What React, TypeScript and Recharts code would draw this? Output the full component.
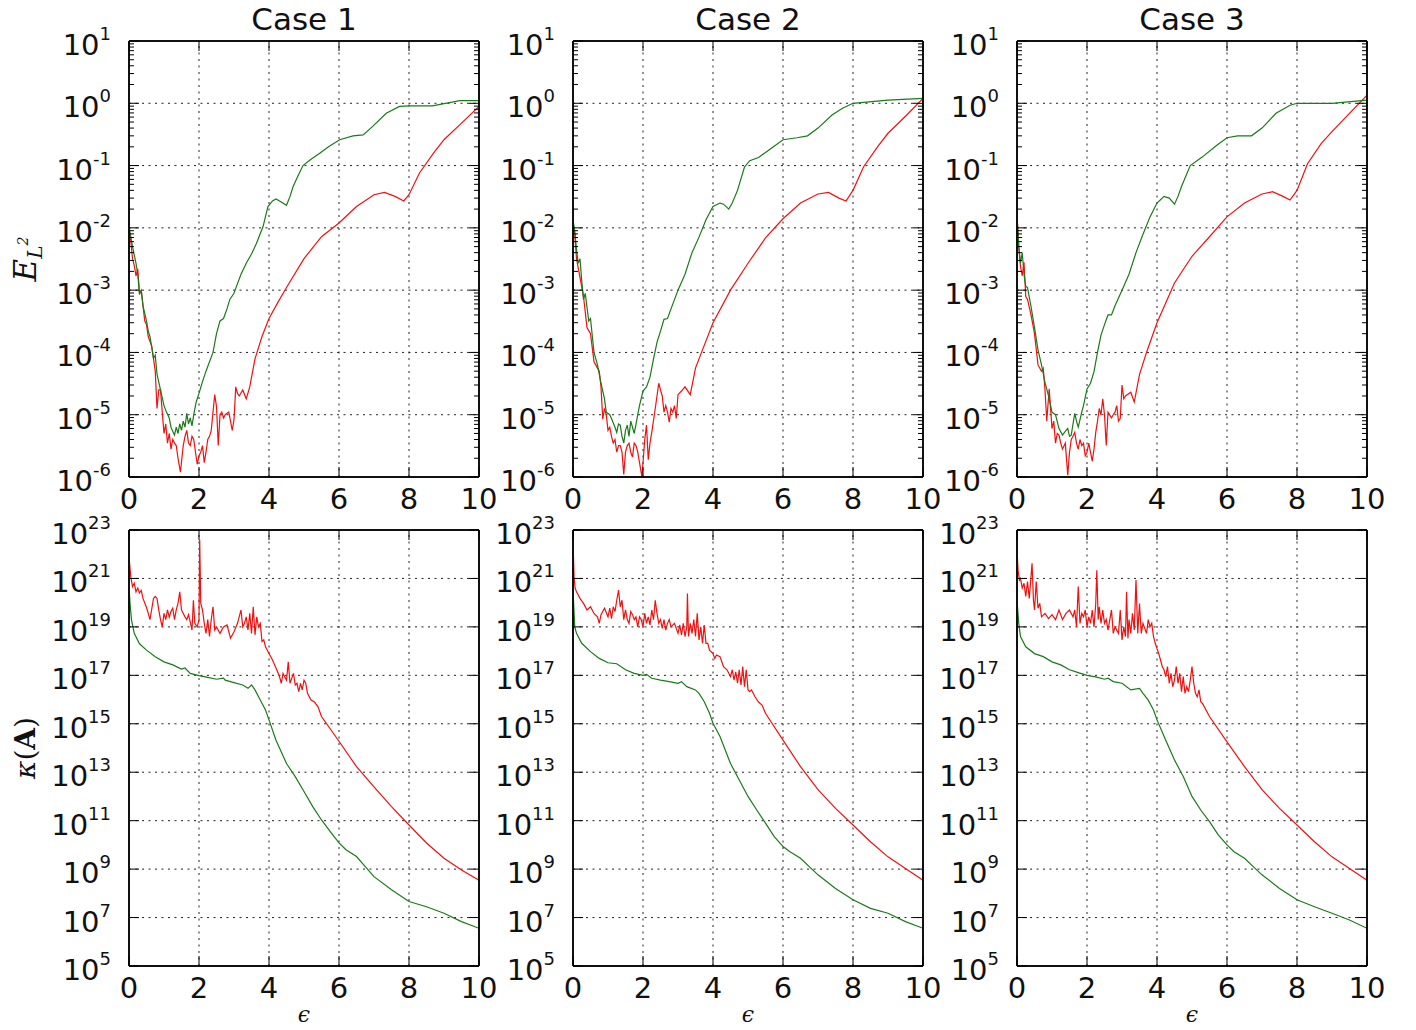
import React from "react";
import { LineChart, Line, XAxis, YAxis, ReferenceLine } from "recharts";

type Pair = [number, number];

// ---------- axis / tick definitions ----------
const xTicks = [0, 2, 4, 6, 8, 10];
const xGrid = [2, 4, 6, 8];
const errMajor = [1e-6, 1e-5, 1e-4, 1e-3, 1e-2, 1e-1, 1, 10];
const errGrid = [1e-5, 1e-4, 1e-3, 1e-2, 1e-1, 1];
const errMinorDecades = [1e-6, 1e-5, 1e-4, 1e-3, 1e-2, 1e-1, 1];
const minorMantissas = [2, 3, 4, 5, 6, 7, 8, 9];
const kapMajor = [1e5, 1e7, 1e9, 1e11, 1e13, 1e15, 1e17, 1e19, 1e21, 1e23];
const kapGrid = [1e7, 1e9, 1e11, 1e13, 1e15, 1e17, 1e19, 1e21];
const titles = ["Case 1", "Case 2", "Case 3"];

// ---------- E_{L^2} (top row) ----------
const errGreen1: Pair[] = [[0,1.05e-2],[0.1,5e-3],[0.2,2.7e-3],[0.25,1.8e-3],[0.3,8.5e-4],[0.35,1e-3],[0.4,5.6e-4],[0.5,3.2e-4],[0.55,2.2e-4],[0.6,1.8e-4],[0.7,8e-5],[0.75,9e-5],[0.8,4.5e-5],[0.9,2.5e-5],[1,1.4e-5],[1.07,1.1e-5],[1.15,8.9e-6],[1.2,6.3e-6],[1.3,4.7e-6],[1.35,6.3e-6],[1.4,5e-6],[1.45,7.1e-6],[1.5,5.6e-6],[1.55,7.9e-6],[1.6,6.3e-6],[1.65,1.05e-5],[1.7,7.1e-6],[1.75,8.9e-6],[1.8,6.6e-6],[1.85,1e-5],[1.92,1.6e-5],[2,2.2e-5],[2.1,3.4e-5],[2.2,5e-5],[2.4,1e-4],[2.5,2e-4],[2.6,3.2e-4],[2.7,3.5e-4],[2.8,5e-4],[2.88,7.1e-4],[3,8.9e-4],[3.07,1.15e-3],[3.2,1.8e-3],[3.35,2.7e-3],[3.5,3.8e-3],[3.64,5.6e-3],[3.83,1.05e-2],[3.97,2.2e-2],[4.1,2.7e-2],[4.2,2.9e-2],[4.35,2.6e-2],[4.5,2.3e-2],[4.6,3.2e-2],[4.69,4.6e-2],[4.8,6.3e-2],[4.97,0.1],[5.2,0.126],[5.45,0.158],[5.7,0.2],[6.02,0.26],[6.4,0.3],[6.69,0.31],[6.97,0.43],[7.35,0.69],[7.73,0.89],[8,0.91],[8.67,0.91],[9.45,1.1],[10,1.1]];
const errRed1: Pair[] = [[0,9.3e-3],[0.05,6.3e-3],[0.1,3.2e-3],[0.15,2.5e-3],[0.2,1.7e-3],[0.25,2.2e-3],[0.3,8.9e-4],[0.35,1e-3],[0.45,3.2e-4],[0.5,2.8e-4],[0.55,1.8e-4],[0.65,1.26e-4],[0.75,5e-5],[0.8,1.26e-5],[0.85,2.5e-5],[0.9,2.5e-5],[0.95,1.1e-5],[1,5e-6],[1.05,7.1e-6],[1.1,3.5e-6],[1.15,5e-6],[1.2,2.8e-6],[1.25,4e-6],[1.3,3.5e-6],[1.35,3.2e-6],[1.4,2e-6],[1.47,1.2e-6],[1.55,3.2e-6],[1.6,4.5e-6],[1.65,5.6e-6],[1.7,3.5e-6],[1.75,3.2e-6],[1.8,4.5e-6],[1.85,4e-6],[1.9,2.5e-6],[1.95,1.6e-6],[2,2.2e-6],[2.05,2.5e-6],[2.1,3.2e-6],[2.15,1.7e-6],[2.2,2.5e-6],[2.25,4e-6],[2.3,4.5e-6],[2.35,5.6e-6],[2.4,1.1e-5],[2.45,2.1e-5],[2.5,1.35e-5],[2.55,3.2e-6],[2.6,1e-5],[2.65,1.1e-5],[2.7,8.9e-6],[2.75,1e-5],[2.85,1.1e-5],[2.9,7.9e-6],[2.95,5.6e-6],[3,8.3e-6],[3.05,2.8e-5],[3.1,2.2e-5],[3.15,2e-5],[3.25,2.5e-5],[3.35,1.8e-5],[3.45,2.8e-5],[3.6,7.9e-5],[3.8,1.8e-4],[4,3.5e-4],[4.25,6.3e-4],[4.5,1.1e-3],[5,3.2e-3],[5.5,7.2e-3],[6,1.2e-2],[6.5,2.2e-2],[7,3.4e-2],[7.3,3.7e-2],[7.6,3.2e-2],[7.85,2.7e-2],[8,3.4e-2],[8.3,7.6e-2],[8.7,0.158],[9,0.26],[9.5,0.48],[10,0.89]];
const errGreen2: Pair[] = [[0,1.35e-2],[0.05,8.9e-3],[0.1,4.5e-3],[0.15,2.7e-3],[0.2,3.2e-3],[0.25,1.4e-3],[0.3,7.1e-4],[0.35,8.9e-4],[0.45,3.2e-4],[0.5,3.5e-4],[0.6,1e-4],[0.7,6.3e-5],[0.8,3.2e-5],[0.9,1.8e-5],[0.95,1.1e-5],[1.05,1e-5],[1.1,8.7e-6],[1.2,6.3e-6],[1.25,5.2e-6],[1.3,7.1e-6],[1.35,6.8e-6],[1.4,4.5e-6],[1.45,3.5e-6],[1.5,5.6e-6],[1.55,6.8e-6],[1.6,4.5e-6],[1.65,7.9e-6],[1.7,6.3e-6],[1.75,5e-6],[1.85,1e-5],[1.9,1.4e-5],[2,2.4e-5],[2.1,2.8e-5],[2.2,4e-5],[2.3,7.9e-5],[2.4,1.45e-4],[2.5,2.2e-4],[2.6,3.4e-4],[2.7,3.5e-4],[2.8,5e-4],[3,1e-3],[3.2,1.8e-3],[3.4,4e-3],[3.6,7.1e-3],[3.8,1.35e-2],[4,2.2e-2],[4.2,2.5e-2],[4.3,2.4e-2],[4.45,2e-2],[4.55,2.5e-2],[4.7,4e-2],[4.9,9.5e-2],[5.05,0.12],[5.3,0.135],[5.6,0.178],[6,0.26],[6.4,0.28],[6.7,0.3],[7,0.4],[7.4,0.65],[7.7,0.83],[8,1],[9,1.12],[10,1.2]];
const errRed2: Pair[] = [[0,1.2e-2],[0.05,7.9e-3],[0.1,3.2e-3],[0.2,1.6e-3],[0.3,7.9e-4],[0.4,2.5e-4],[0.5,2e-4],[0.6,7.1e-5],[0.7,5.6e-5],[0.75,5e-5],[0.8,2.8e-5],[0.85,8.5e-6],[0.9,1.26e-5],[0.95,1e-5],[1,5.6e-6],[1.05,6.3e-6],[1.1,4.5e-6],[1.15,3.5e-6],[1.2,4e-6],[1.25,2.5e-6],[1.3,3.2e-6],[1.35,3.2e-6],[1.4,2.5e-6],[1.45,1.1e-6],[1.5,2.5e-6],[1.55,3.2e-6],[1.6,3.5e-6],[1.65,2.5e-6],[1.7,2.1e-6],[1.75,3.5e-6],[1.8,3.2e-6],[1.85,2.5e-6],[1.9,1.7e-6],[1.97,1e-6],[2.05,4e-6],[2.1,6.8e-6],[2.15,1.9e-6],[2.2,3.5e-6],[2.25,5.2e-6],[2.35,1.26e-5],[2.45,3.2e-5],[2.5,2.5e-5],[2.55,2e-5],[2.6,1.1e-5],[2.65,1.4e-5],[2.7,1.1e-5],[2.75,7.6e-6],[2.8,1.26e-5],[2.85,1.1e-5],[2.9,1.4e-5],[2.95,8.7e-6],[3,2.1e-5],[3.1,2.4e-5],[3.2,2.8e-5],[3.35,2.1e-5],[3.5,5.6e-5],[3.7,1.1e-4],[4,3e-4],[4.5,1e-3],[5,2.7e-3],[5.5,6.9e-3],[6,1.4e-2],[6.5,2.5e-2],[7,3.5e-2],[7.3,3.7e-2],[7.6,3e-2],[7.8,2.7e-2],[8,4e-2],[8.3,9.5e-2],[8.7,0.2],[9,0.33],[9.5,0.62],[10,1.2]];
const errGreen3: Pair[] = [[0,1.5e-2],[0.05,5e-3],[0.1,2.7e-3],[0.15,4e-3],[0.2,1.8e-3],[0.25,1.15e-3],[0.3,1.1e-3],[0.4,5.5e-4],[0.5,2.5e-4],[0.6,1.1e-4],[0.7,6.3e-5],[0.8,3.3e-5],[0.9,2e-5],[1,1.1e-5],[1.1,1e-5],[1.2,6e-6],[1.3,4.7e-6],[1.4,5.6e-6],[1.45,6e-6],[1.5,4.5e-6],[1.55,4.7e-6],[1.6,7.1e-6],[1.65,1.05e-5],[1.7,7.9e-6],[1.75,6.3e-6],[1.85,1.1e-5],[1.9,1.4e-5],[2,2.6e-5],[2.1,3.2e-5],[2.2,4.9e-5],[2.3,1e-4],[2.4,1.9e-4],[2.5,2.8e-4],[2.6,4e-4],[2.7,4e-4],[2.8,5.6e-4],[3,1e-3],[3.2,1.8e-3],[3.4,4e-3],[3.6,7.9e-3],[3.8,1.5e-2],[4,2.5e-2],[4.2,3.2e-2],[4.35,3e-2],[4.5,2.4e-2],[4.6,3.2e-2],[4.7,4.6e-2],[4.95,0.1],[5.3,0.138],[5.7,0.21],[6,0.28],[6.3,0.3],[6.7,0.3],[7,0.4],[7.4,0.69],[7.8,0.93],[8,1],[9,1],[10,1.12]];
const errRed3: Pair[] = [[0,1.6e-2],[0.05,5e-3],[0.1,2.4e-3],[0.15,1.7e-3],[0.2,2.8e-3],[0.25,7.9e-4],[0.3,7.1e-4],[0.4,4e-4],[0.5,2e-4],[0.6,6.3e-5],[0.7,5e-5],[0.75,5.6e-5],[0.8,2.5e-5],[0.85,7.9e-6],[0.92,2.6e-5],[1,6e-6],[1.05,7.9e-6],[1.1,3.5e-6],[1.15,5e-6],[1.2,4.7e-6],[1.25,3.5e-6],[1.3,2.8e-6],[1.38,3.5e-6],[1.45,1.07e-6],[1.5,2.5e-6],[1.55,4e-6],[1.6,4.5e-6],[1.65,5.2e-6],[1.7,3.5e-6],[1.75,2.8e-6],[1.8,4e-6],[1.85,3.2e-6],[1.9,3.5e-6],[1.95,2.2e-6],[2,2.5e-6],[2.05,3.5e-6],[2.1,2.5e-6],[2.15,1.8e-6],[2.2,2.8e-6],[2.25,5.2e-6],[2.3,7.9e-6],[2.35,1.26e-5],[2.4,1e-5],[2.45,1.8e-5],[2.5,1e-5],[2.55,3.2e-6],[2.6,1.1e-5],[2.7,8.9e-6],[2.75,1e-5],[2.8,1.1e-5],[2.85,1.4e-5],[2.9,7.9e-6],[2.95,8.7e-6],[3,3e-5],[3.05,1.8e-5],[3.1,2e-5],[3.25,2.3e-5],[3.35,1.6e-5],[3.5,4.4e-5],[3.7,1e-4],[4,3e-4],[4.5,1.3e-3],[5,3.5e-3],[5.5,7.2e-3],[6,1.5e-2],[6.5,2.5e-2],[7,3.5e-2],[7.3,3.8e-2],[7.6,3.2e-2],[7.8,2.8e-2],[8,4e-2],[8.3,0.107],[8.7,0.23],[9,0.35],[9.5,0.69],[10,1.35]];

// ---------- kappa(A) (bottom row) ----------
const kapRed1: Pair[] = [[0,7.9e21],[0.05,1.2e21],[0.1,4.6e20],[0.15,6.3e20],[0.2,2.8e20],[0.25,4e20],[0.3,2.5e20],[0.35,3.2e20],[0.4,1.5e20],[0.5,6.3e19],[0.55,3.6e19],[0.6,2e19],[0.7,1.5e20],[0.75,1.8e20],[0.8,1.5e20],[0.85,5e19],[0.9,2e19],[0.95,1e19],[1,3.6e19],[1.05,2e19],[1.1,5e19],[1.15,2.5e19],[1.2,4.3e19],[1.25,5.9e19],[1.3,2e19],[1.35,5e19],[1.4,9.3e19],[1.45,2.8e20],[1.5,5e19],[1.55,3.6e19],[1.6,2.6e19],[1.65,2e19],[1.7,3.2e19],[1.75,1.6e19],[1.8,7.4e18],[1.84,1.26e20],[1.88,1.4e19],[1.95,1e19],[2,2e19],[2.02,4e22],[2.05,9.3e19],[2.1,5e19],[2.15,1.4e19],[2.2,5.4e18],[2.25,2e19],[2.3,4e18],[2.35,2e19],[2.4,6.8e19],[2.45,7.4e18],[2.5,1e19],[2.6,5.4e18],[2.7,1e19],[2.8,1.2e19],[2.9,3.4e18],[3,6.3e18],[3.1,1.4e19],[3.2,5e19],[3.25,1e19],[3.3,1.4e19],[3.35,2.6e19],[3.4,7.4e18],[3.45,3.6e19],[3.5,5.4e18],[3.55,6.8e19],[3.6,4.7e18],[3.65,2.6e19],[3.7,1e19],[3.75,1.4e19],[3.8,2.5e18],[3.85,2.9e18],[3.9,1.5e18],[4,7.9e17],[4.1,4.3e17],[4.2,2e17],[4.3,8.9e16],[4.35,4.7e16],[4.4,1.2e17],[4.5,6.3e16],[4.55,3.6e17],[4.6,4.7e16],[4.7,1.2e17],[4.75,4e16],[4.8,4.7e16],[4.85,2.1e16],[4.9,4.7e16],[4.95,2.5e16],[5,6.3e16],[5.05,4.7e16],[5.1,1.8e16],[5.2,9.5e15],[5.3,7.9e15],[5.4,5e15],[5.5,2e15],[6,1.9e14],[6.5,1.7e13],[7,2.5e12],[7.5,3.8e11],[8,6.6e10],[8.5,1.2e10],[9,2.8e9],[9.5,9.1e8],[10,3.5e8]];
const kapGreen1: Pair[] = [[0,4.6e20],[0.03,9.3e19],[0.07,2e19],[0.15,5.4e18],[0.3,2e18],[0.5,1.1e18],[0.75,5.9e17],[1,3.6e17],[1.25,2.7e17],[1.5,1.8e17],[1.6,2e17],[1.75,1.2e17],[2,9.8e16],[2.25,8.3e16],[2.5,6.9e16],[2.7,7.6e16],[2.75,6.3e16],[3,5e16],[3.25,4e16],[3.4,2.9e16],[3.5,4e16],[3.6,2.5e16],[3.75,9.5e15],[3.9,3.7e15],[4,1.45e15],[4.2,2.1e14],[4.5,2.3e13],[4.75,6.6e12],[5,1.6e12],[5.25,3.8e11],[5.5,1.07e11],[5.75,3.5e10],[6,1.2e10],[6.2,6.3e9],[6.5,3.3e9],[6.75,1.26e9],[7,4.9e8],[7.5,1.4e8],[8,4.6e7],[8.5,2.8e7],[9,1.5e7],[9.5,6.8e6],[10,3.6e6]];
const kapRed2: Pair[] = [[0,4e22],[0.03,1.2e21],[0.06,4e20],[0.1,2.8e20],[0.2,1.5e20],[0.3,9.3e19],[0.4,5e19],[0.5,6.8e19],[0.6,3.6e19],[0.7,2.6e19],[0.75,1.4e19],[0.8,3.2e19],[0.9,5.9e19],[1,2.6e19],[1.05,5.9e19],[1.1,2.2e19],[1.15,6.8e19],[1.2,4.3e19],[1.25,1.26e20],[1.3,3.3e20],[1.35,6.8e19],[1.4,1.26e20],[1.45,2e19],[1.5,5e19],[1.55,2e19],[1.6,1.4e19],[1.65,4.3e19],[1.7,3.2e19],[1.75,2e19],[1.8,2.6e19],[1.85,1e19],[1.9,2.6e19],[1.95,2e19],[2,1e19],[2.05,3.6e19],[2.1,1.4e19],[2.15,2.6e19],[2.2,1.2e19],[2.25,5e19],[2.3,2e19],[2.35,1.26e20],[2.4,3.6e19],[2.45,1.4e19],[2.5,2e19],[2.55,8.7e18],[2.6,2e19],[2.65,7.4e18],[2.7,1.4e19],[2.75,2e19],[2.8,1e19],[2.9,1.4e19],[3,5.4e18],[3.05,1.2e19],[3.1,4.7e18],[3.15,1.4e19],[3.2,4e18],[3.25,1e19],[3.27,2.4e20],[3.3,4e18],[3.35,1.4e19],[3.4,5.4e18],[3.45,2e19],[3.5,4e18],[3.55,3.6e19],[3.6,2.9e18],[3.65,1e19],[3.7,2.1e18],[3.75,1.2e19],[3.8,2.1e18],[3.85,2.1e18],[3.9,1.1e18],[4,7.9e17],[4.05,5e17],[4.1,6.9e17],[4.2,5.9e17],[4.3,2.3e17],[4.4,1.7e17],[4.5,8.9e16],[4.55,1.7e17],[4.6,6.3e16],[4.65,1.4e17],[4.7,4.7e16],[4.75,1.7e17],[4.8,4e16],[4.85,2.3e17],[4.9,3.4e16],[4.95,1.7e17],[5,2.5e16],[5.05,2.1e16],[5.1,2.5e16],[5.2,1.3e16],[5.3,7.9e15],[5.4,5.9e15],[5.5,2.7e15],[6,2.1e14],[6.5,1.7e13],[7,1.9e12],[7.5,3.2e11],[8,6.6e10],[8.5,1.35e10],[9,3.2e9],[9.5,1.07e9],[10,3.5e8]];
const kapGreen2: Pair[] = [[0,3.3e20],[0.05,1e19],[0.1,5.4e18],[0.25,2.1e18],[0.5,9.5e17],[0.75,5e17],[1,3.3e17],[1.25,3e17],[1.5,1.7e17],[1.75,1.2e17],[2,1e17],[2.1,1.1e17],[2.25,7.6e16],[2.5,6.3e16],[2.75,5.5e16],[3,4.7e16],[3.1,5.5e16],[3.25,3.4e16],[3.5,2.5e16],[3.6,1.8e16],[3.75,8.1e15],[3.9,2.7e15],[4,1.05e15],[4.2,3e14],[4.5,2.3e13],[4.75,4.8e12],[5,1e12],[5.25,2.75e11],[5.5,7.9e10],[5.75,2.2e10],[6,8.5e9],[6.2,5.2e9],[6.5,2.8e9],[6.75,1.26e9],[7,5.8e8],[7.5,1.6e8],[8,5.4e7],[8.5,2.4e7],[9,1.5e7],[9.5,6.8e6],[10,3.6e6]];
const kapRed3: Pair[] = [[0,1.5e22],[0.03,2.2e21],[0.07,8.5e20],[0.1,1e21],[0.15,4e20],[0.2,6.3e20],[0.25,1.8e20],[0.3,7.4e20],[0.35,1.5e20],[0.4,1.2e21],[0.43,4.2e21],[0.47,1.26e20],[0.5,5e19],[0.55,7.4e20],[0.6,5.9e19],[0.65,9.3e19],[0.7,2.6e19],[0.8,3.6e19],[0.9,2.2e19],[1,3.2e19],[1.1,2e19],[1.2,5e19],[1.3,2e19],[1.4,3.6e19],[1.5,5e19],[1.6,2.6e19],[1.65,5e19],[1.7,1e19],[1.75,4.6e20],[1.8,1.4e19],[1.85,3.6e19],[1.9,2.6e19],[1.95,5e19],[2,1e19],[2.05,2.6e19],[2.1,1.4e19],[2.15,5e19],[2.2,1e19],[2.25,9.3e19],[2.28,2.2e21],[2.32,2e19],[2.35,6.8e19],[2.4,1.4e19],[2.45,5e19],[2.5,1.4e19],[2.55,2e19],[2.6,7.4e18],[2.7,5e19],[2.75,5.4e18],[2.8,1e19],[2.9,5.4e18],[2.95,5e19],[3,2.9e18],[3.05,1e19],[3.1,4e18],[3.13,2.8e20],[3.17,3.4e18],[3.2,2e19],[3.25,5.4e18],[3.3,3.6e19],[3.35,7.4e18],[3.4,8.7e20],[3.45,5.4e18],[3.5,9.3e19],[3.55,5.4e18],[3.6,1.4e19],[3.65,8.7e18],[3.7,5.4e18],[3.75,2e19],[3.8,1e19],[3.85,1.4e19],[3.9,4e18],[3.95,2.1e18],[4,1.26e18],[4.05,7.9e17],[4.1,4.3e17],[4.15,2.3e17],[4.2,1.7e17],[4.25,8.9e16],[4.3,2.3e17],[4.35,4.7e16],[4.4,1.2e17],[4.45,3.4e16],[4.5,6.3e16],[4.55,2.3e17],[4.6,4.7e16],[4.65,1.2e17],[4.7,2.1e16],[4.75,8.9e16],[4.8,1.8e16],[4.85,3.4e16],[4.9,2.1e16],[4.95,6.3e16],[5,2.3e17],[5.05,4.7e16],[5.1,1.8e16],[5.15,1.3e16],[5.2,2.5e16],[5.25,8.1e15],[5.3,6.9e15],[5.5,2e15],[6,1.8e14],[6.5,1.7e13],[7,1.9e12],[7.5,3.2e11],[8,6.6e10],[8.5,1.35e10],[9,3.2e9],[9.5,1.07e9],[10,3.5e8]];
const kapGreen3: Pair[] = [[0,1.26e20],[0.05,1.4e19],[0.1,4e18],[0.25,1.5e18],[0.5,7.9e17],[0.75,5.9e17],[1,3.6e17],[1.25,2.7e17],[1.5,1.7e17],[1.75,1.3e17],[2,1e17],[2.25,8.7e16],[2.5,6.9e16],[2.6,7.6e16],[2.75,5.5e16],[3,4.7e16],[3.25,2.5e16],[3.5,2.9e16],[3.6,1.8e16],[3.75,9.5e15],[3.9,3.7e15],[4,1.45e15],[4.25,2.1e14],[4.5,3.2e13],[4.75,6.6e12],[5,1e12],[5.25,2.75e11],[5.5,9.1e10],[5.75,2.6e10],[6,1e10],[6.2,5.2e9],[6.5,2.8e9],[6.75,1.26e9],[7,5.8e8],[7.5,1.6e8],[8,5.4e7],[8.5,2.8e7],[9,1.5e7],[9.5,7.9e6],[10,3.6e6]];

// ---------- layout ----------
const PLOT_LEFTS = [129, 573, 1017];
const ROW_TOPS = [41, 530];
const PLOT_W = 350;
const PLOT_H = 436;
const PAD_L = 125;
const PAD_T = 40;
const PAD_R = 30;
const PAD_B = 50;
const MIRROR_AXIS = 1;
const RED = "#f01010";
const GREEN = "#1a7a1a";
const FONT = "'DejaVu Sans', sans-serif";
const SERIF = "'DejaVu Serif', serif";
const MAJOR_LEN = 10;
const MINOR_LEN = 5;
const LABEL_SIZE = 29;
const SUP_SIZE = 18;

const rows = (pairs: Pair[]) => pairs.map(([x, y]) => ({ x, y }));
const errMinor = errMinorDecades.flatMap((d) => minorMantissas.map((m) => m * d));
const frame = { stroke: "#111", strokeWidth: 2 };

const isMajor = (v: number, majors: number[]) => majors.some((m) => Math.abs(m - v) / m < 1e-9);

const makeLeftTick = (majors: number[]) => (props: any) => {
  const { x, y, payload } = props;
  const v = payload.value;
  const major = isMajor(v, majors);
  const exp = Math.round(Math.log10(v));
  return (
    <g>
      <line x1={x} y1={y} x2={x + (major ? MAJOR_LEN : MINOR_LEN)} y2={y} stroke="#000" strokeWidth={1} />
      {major ? (
        <text x={x - 18} y={y + 14} textAnchor="end" fontFamily={FONT} fontSize={LABEL_SIZE} fill="#111">
          10
          <tspan dy={-15} fontSize={SUP_SIZE}>{String(exp)}</tspan>
        </text>
      ) : null}
    </g>
  );
};

const makeRightTick = (majors: number[]) => (props: any) => {
  const { x, y, payload } = props;
  const major = isMajor(payload.value, majors);
  return <line x1={x} y1={y} x2={x - (major ? MAJOR_LEN : MINOR_LEN)} y2={y} stroke="#000" strokeWidth={1} />;
};

const BottomTick = (props: any) => {
  const { x, y, payload } = props;
  return (
    <g>
      <line x1={x} y1={y} x2={x} y2={y - MAJOR_LEN} stroke="#000" strokeWidth={1} />
      <text x={x} y={y + 32} textAnchor="middle" fontFamily={FONT} fontSize={LABEL_SIZE} fill="#111">
        {String(payload.value)}
      </text>
    </g>
  );
};

const TopTick = (props: any) => {
  const { x, y } = props;
  return <line x1={x} y1={y} x2={x} y2={y + MAJOR_LEN} stroke="#000" strokeWidth={1} />;
};

type PanelProps = {
  left: number;
  top: number;
  red: Pair[];
  green: Pair[];
  domain: [number, number];
  majors: number[];
  minors: number[];
  grid: number[];
};

function Panel({ left, top, red, green, domain, majors, minors, grid }: PanelProps) {
  const allTicks = [...majors, ...minors].sort((a, b) => a - b);
  const LeftTick = makeLeftTick(majors);
  const RightTick = makeRightTick(majors);
  const redRows = rows(red);
  const greenRows = rows(green);
  return (
    <div style={{ position: "absolute", left: left - PAD_L, top: top - PAD_T }}>
      <LineChart
        width={PAD_L + PLOT_W + PAD_R}
        height={PAD_T + PLOT_H + PAD_B}
        margin={{ top: PAD_T - MIRROR_AXIS, right: PAD_R - MIRROR_AXIS, bottom: 0, left: 0 }}
      >
        <XAxis
          xAxisId="x"
          dataKey="x"
          type="number"
          domain={[0, 10]}
          ticks={xTicks}
          interval={0}
          allowDataOverflow
          height={PAD_B}
          tickSize={0}
          tickMargin={0}
          tickLine={false}
          axisLine={frame}
          tick={BottomTick}
        />
        <XAxis
          xAxisId="xt"
          dataKey="x"
          orientation="top"
          type="number"
          domain={[0, 10]}
          ticks={xTicks}
          interval={0}
          allowDataOverflow
          height={MIRROR_AXIS}
          tickSize={0}
          tickMargin={0}
          tickLine={false}
          axisLine={frame}
          tick={TopTick}
        />
        <YAxis
          yAxisId="y"
          type="number"
          scale="log"
          domain={domain}
          ticks={allTicks}
          interval={0}
          allowDataOverflow
          width={PAD_L}
          tickSize={0}
          tickMargin={0}
          tickLine={false}
          axisLine={frame}
          tick={LeftTick}
        />
        <YAxis
          yAxisId="yr"
          orientation="right"
          type="number"
          scale="log"
          domain={domain}
          ticks={allTicks}
          interval={0}
          allowDataOverflow
          width={MIRROR_AXIS}
          tickSize={0}
          tickMargin={0}
          tickLine={false}
          axisLine={frame}
          tick={RightTick}
        />
        {grid.map((v) => (
          <ReferenceLine
            key={"h" + v}
            xAxisId="x"
            yAxisId="y"
            y={v}
            stroke="#222"
            strokeWidth={1}
            strokeDasharray="2 4.5"
          />
        ))}
        {xGrid.map((v) => (
          <ReferenceLine
            key={"v" + v}
            xAxisId="x"
            yAxisId="y"
            x={v}
            stroke="#222"
            strokeWidth={1}
            strokeDasharray="2 4.5"
          />
        ))}
        {/* invisible companion series so the mirrored top/right frame axes are drawn */}
        <Line
          xAxisId="xt"
          yAxisId="yr"
          data={greenRows}
          dataKey="y"
          type="linear"
          stroke="none"
          strokeWidth={0}
          dot={false}
          activeDot={false}
          legendType="none"
          isAnimationActive={false}
        />
        <Line
          xAxisId="x"
          yAxisId="y"
          data={redRows}
          dataKey="y"
          type="linear"
          stroke={RED}
          strokeWidth={1.2}
          dot={false}
          activeDot={false}
          isAnimationActive={false}
        />
        <Line
          xAxisId="x"
          yAxisId="y"
          data={greenRows}
          dataKey="y"
          type="linear"
          stroke={GREEN}
          strokeWidth={1.2}
          dot={false}
          activeDot={false}
          isAnimationActive={false}
        />
      </LineChart>
    </div>
  );
}

const errSeries = [
  { red: errRed1, green: errGreen1 },
  { red: errRed2, green: errGreen2 },
  { red: errRed3, green: errGreen3 },
];
const kapSeries = [
  { red: kapRed1, green: kapGreen1 },
  { red: kapRed2, green: kapGreen2 },
  { red: kapRed3, green: kapGreen3 },
];

export default function App() {
  return (
    <div style={{ position: "absolute", left: 0, top: 0, width: 1416, height: 1030, background: "#fff" }}>
      {errSeries.map((s, i) => (
        <Panel
          key={"e" + i}
          left={PLOT_LEFTS[i]}
          top={ROW_TOPS[0]}
          red={s.red}
          green={s.green}
          domain={[1e-6, 10]}
          majors={errMajor}
          minors={errMinor}
          grid={errGrid}
        />
      ))}
      {kapSeries.map((s, i) => (
        <Panel
          key={"k" + i}
          left={PLOT_LEFTS[i]}
          top={ROW_TOPS[1]}
          red={s.red}
          green={s.green}
          domain={[1e5, 1e23]}
          majors={kapMajor}
          minors={[]}
          grid={kapGrid}
        />
      ))}
      <svg
        width={1416}
        height={1030}
        style={{ position: "absolute", left: 0, top: 0, pointerEvents: "none" }}
      >
        {titles.map((t, i) => (
          <text
            key={t}
            x={PLOT_LEFTS[i] + PLOT_W / 2}
            y={30}
            textAnchor="middle"
            fontFamily={FONT}
            fontSize={31}
            fill="#111"
          >
            {t}
          </text>
        ))}
        {PLOT_LEFTS.map((l, i) => (
          <text
            key={"eps" + i}
            x={l + PLOT_W / 2}
            y={1022}
            textAnchor="middle"
            fontFamily={SERIF}
            fontStyle="italic"
            fontSize={22}
            fill="#111"
          >
            ϵ
          </text>
        ))}
        <text
          transform={`translate(36, ${ROW_TOPS[0] + PLOT_H / 2}) rotate(-90)`}
          textAnchor="middle"
          fontFamily={SERIF}
          fontStyle="italic"
          fontSize={31}
          fill="#111"
        >
          E
          <tspan fontSize={20} dy={6}>L</tspan>
          <tspan fontSize={14} dy={-14}>2</tspan>
        </text>
        <text
          transform={`translate(35, ${ROW_TOPS[1] + PLOT_H / 2}) rotate(-90)`}
          textAnchor="middle"
          fontFamily={SERIF}
          fontSize={28}
          fill="#111"
        >
          <tspan fontStyle="italic">κ</tspan>(<tspan fontWeight="bold">A</tspan>)
        </text>
      </svg>
    </div>
  );
}
